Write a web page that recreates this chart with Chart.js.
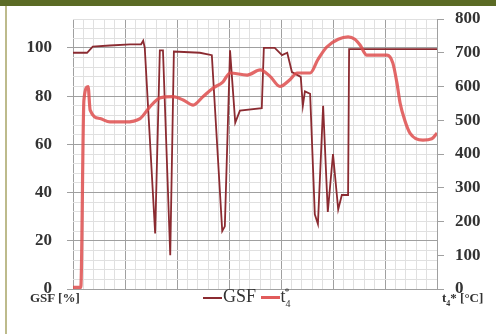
<!DOCTYPE html>
<html>
<head>
<meta charset="utf-8">
<script src="https://cdn.jsdelivr.net/npm/chart.js@4.4.0/dist/chart.umd.min.js"></script>
<style>
  html, body { margin: 0; padding: 0; background: #fff; }
  #wrap { position: relative; width: 496px; height: 334px; overflow: hidden; }
  #band { position: absolute; left: 0; top: 0; width: 496px; height: 6px; background: #5b6b25; }
  #edge { position: absolute; left: 5px; top: 6px; width: 2px; height: 328px; background: #bdbb8c; }
  canvas { position: absolute; left: 0; top: 0; }
  .lbl { position: absolute; font-family: "Liberation Serif", serif; color: #333; font-weight: bold; }
  #legend { position: absolute; left: 203px; top: 286px; font-family: "Liberation Serif", serif; font-size: 18px; color: #333; white-space: nowrap; }
  .sw { display: inline-block; width: 19px; vertical-align: middle; margin-right: 1px; }
  sub, sup { font-size: 10px; }
</style>
</head>
<body>
<div id="wrap">
  <div id="band"></div>
  <div id="edge"></div>
  <canvas id="chart" width="496" height="334"></canvas>
  <div class="lbl" style="left:30px; top:290px; font-size:13px;">GSF [%]</div>
  <div class="lbl" style="left:442px; top:290px; font-size:13px;">t<sub style="font-size:8px">4</sub>* [°C]</div>
  <div id="legend"><span class="sw" style="border-top:2px solid #8b2b31"></span>GSF <span class="sw" style="border-top:3px solid #e15b5b"></span>t<sub>4</sub><sup style="margin-left:-6px">*</sup></div>
</div>
<script>
// GSF [%] (left axis), x in grid units (0..70)
const gsfX = [0, 2.7, 3.8, 7.1, 11.0, 13.1, 13.5, 13.8, 15.8, 16.7, 17.3, 18.7, 19.4, 24.4, 26.7, 28.7, 29.2, 30.2, 31.2, 32.1, 36.3, 36.7, 38.8, 40.2, 41.2, 42.1, 43.8, 44.2, 44.6, 45.6, 46.5, 47.1, 48.1, 49.0, 50.0, 51.0, 51.7, 52.9, 53.1, 70];
const gsfY = [98, 98, 100.5, 101, 101.5, 101.5, 103, 100, 23, 99, 99, 14, 98.5, 98, 97, 24, 26, 99, 69, 74, 75, 100, 100, 97, 98, 90, 88, 76, 82, 81, 31, 27, 76, 32, 56, 33, 39, 39, 99.5, 99.5];

// t4* [°C] (right axis)
const t4X = [0, 1.5, 2.1, 2.9, 3.3, 5.2, 7.1, 10.0, 12.9, 14.8, 16.7, 19.2, 21.2, 23.1, 25.0, 26.9, 28.8, 30.2, 33.5, 36.0, 37.9, 39.8, 41.7, 43.1, 45.6, 47.1, 48.8, 51.0, 52.9, 54.2, 55.2, 56.5, 60.4, 61.5, 62.3, 62.9, 63.8, 64.8, 67.3, 69.0, 70];
const t4Y = [5, 5, 560, 600, 530, 505, 495, 495, 505, 540, 566, 570, 560, 545, 570, 595, 613, 640, 634, 649, 630, 600, 620, 640, 640, 680, 717, 740, 747, 740, 723, 693, 693, 670, 610, 551, 500, 462, 441, 445, 462];

const leftTicks = [0, 20, 40, 60, 80, 100];

const toPts = (xs, ys) => xs.map((x, i) => ({ x: x, y: ys[i] }));

// keep tick labels from pushing the plot area around
const fixY = (w) => (s) => { s.width = w; s.paddingTop = 0; s.paddingBottom = 0; };

new Chart(document.getElementById('chart'), {
    type: 'line',
    data: {
        datasets: [{
            label: 'GSF',
            data: toPts(gsfX, gsfY),
            borderColor: '#8b2b31',
            borderWidth: 1.8,
            pointRadius: 0,
            tension: 0,
            yAxisID: 'y',
            order: 1
        }, {
            label: 't4*',
            data: toPts(t4X, t4Y),
            borderColor: 'rgba(222, 78, 78, 0.85)',
            borderWidth: 3.2,
            pointRadius: 0,
            cubicInterpolationMode: 'monotone',
            yAxisID: 'y1',
            order: 0
        }]
    },
    options: {
        responsive: false,
        animation: false,
        layout: { padding: { top: 19, bottom: 45, left: 0, right: 0 } },
        plugins: {
            legend: { display: false },
            tooltip: { enabled: false }
        },
        scales: {
            x: {
                type: 'linear',
                min: 0,
                max: 70,
                ticks: { display: false, stepSize: 2 },
                grid: {
                    drawTicks: false,
                    color: (c) => (c.tick && c.tick.value % 10 === 0) ? '#a0a0a0' : '#e0e0e0',
                    lineWidth: 1
                },
                border: { display: false },
                afterFit: (s) => { s.height = 0; s.paddingLeft = 0; s.paddingRight = 0; }
            },
            y: {
                position: 'left',
                min: 0,
                max: 112,
                afterFit: fixY(73),
                ticks: {
                    stepSize: 4,
                    autoSkip: false,
                    padding: 15,
                    color: '#333',
                    font: { family: 'Liberation Serif', size: 17, weight: 'bold' },
                    callback: (v) => leftTicks.includes(v) ? String(v) : ''
                },
                grid: {
                    color: (c) => (c.tick && c.tick.value % 20 === 0 && c.tick.value <= 100) ? '#a0a0a0' : '#e0e0e0',
                    tickLength: 6,
                    tickColor: (c) => leftTicks.includes(c.tick.value) ? '#a0a0a0' : 'rgba(0,0,0,0)'
                },
                border: { display: false }
            },
            y1: {
                position: 'right',
                min: 0,
                max: 800,
                afterFit: fixY(59),
                ticks: {
                    stepSize: 100,
                    padding: 11,
                    color: '#333',
                    font: { family: 'Liberation Serif', size: 17, weight: 'bold' }
                },
                grid: { drawOnChartArea: false, tickLength: 7, color: '#a0a0a0' },
                border: { display: true, color: '#a0a0a0' }
            }
        }
    }
});
</script>
</body>
</html>
